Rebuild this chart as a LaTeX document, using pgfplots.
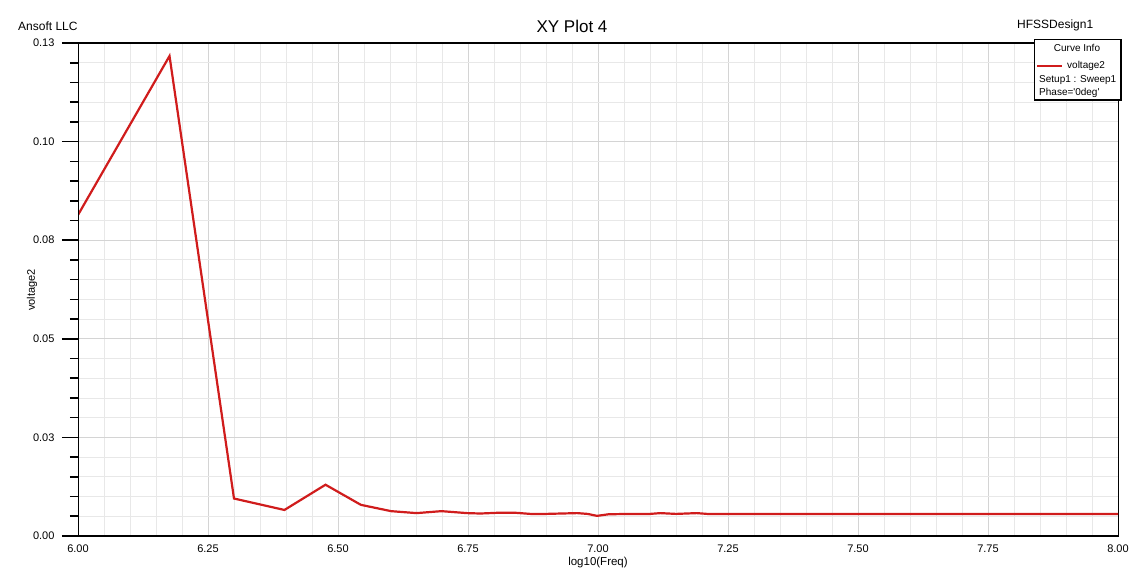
\documentclass[border=0pt]{standalone}
\usepackage{fontspec}
\setmainfont{Liberation Sans}
\usepackage{pgfplots}
\pgfplotsset{compat=1.18}
\definecolor{curvered}{RGB}{208,28,28}
\definecolor{gridminor}{RGB}{232,232,232}
\definecolor{gridmajor}{RGB}{212,212,212}
\begin{document}
\begin{tikzpicture}[x=1bp,y=1bp]
\path[use as bounding box] (0,0) rectangle (1144,582);
\begin{axis}[
  at={(78bp,46bp)}, anchor=south west,
  scale only axis, width=1040bp, height=493bp,
  xmin=6, xmax=8, ymin=0, ymax=0.125,
  xtick={6,6.25,6.5,6.75,7,7.25,7.5,7.75,8},
  xticklabels={6.00,6.25,6.50,6.75,7.00,7.25,7.50,7.75,8.00},
  ytick={0,0.025,0.05,0.075,0.1,0.125},
  yticklabels={0.00,0.03,0.05,0.08,0.10,0.13},
  minor x tick num=4, minor y tick num=4,
  grid=both,
  major grid style={gridmajor, line width=0.9bp},
  minor grid style={gridminor, line width=0.9bp},
  tick align=outside,
  xtick pos=left, ytick pos=left,
  major tick length=16bp, minor tick length=8bp,
  tick style={black, line width=1.6bp},
  xtick style={draw=none},
  axis line style={black, line width=0.8bp},
  /pgf/number format/assume math mode=true,
  ticklabel style={font=\fontsize{11bp}{13bp}\selectfont},
  xticklabel style={yshift=11bp},
  yticklabel style={xshift=-4bp},
  clip=true,
]
\addplot[curvered, line width=2.2bp] coordinates {
(6.000,0.0814)
(6.176,0.1217)
(6.300,0.0095)
(6.397,0.0066)
(6.476,0.0130)
(6.544,0.0079)
(6.602,0.0063)
(6.651,0.0058)
(6.699,0.0063)
(6.748,0.0058)
(6.774,0.0057)
(6.810,0.0059)
(6.840,0.0059)
(6.870,0.0056)
(6.900,0.0056)
(6.930,0.0057)
(6.960,0.0058)
(6.980,0.0056)
(6.998,0.0051)
(7.020,0.0055)
(7.060,0.0056)
(7.100,0.0056)
(7.120,0.0058)
(7.150,0.0056)
(7.190,0.0058)
(7.210,0.0056)
(8.000,0.0056)
};
\draw[black, line width=2.4bp] (rel axis cs:0,1) -- (rel axis cs:1,1);
\draw[black, line width=2.2bp] (rel axis cs:0,0) -- (rel axis cs:0,1);
\draw[black, line width=2.4bp] (rel axis cs:0,0) -- (rel axis cs:1,0);
\pgfplotsinvokeforeach{6.00,6.05,6.10,6.15,6.20,6.25,6.30,6.35,6.40,6.45,6.50,6.55,6.60,6.65,6.70,6.75,6.80,6.85,6.90,6.95,7.00,7.05,7.10,7.15,7.20,7.25,7.30,7.35,7.40,7.45,7.50,7.55,7.60,7.65,7.70,7.75,7.80,7.85,7.90,7.95,8.00}{
  \draw[black, line width=1.4bp] (axis cs:#1,0) -- ++(0,-5bp);
}
\end{axis}
% outer texts
\node[anchor=west, inner sep=0pt, font=\fontsize{12bp}{14bp}\selectfont] at (18,556) {Ansoft LLC};
\node[inner sep=0pt, font=\fontsize{17bp}{20bp}\selectfont] at (572,556) {XY Plot 4};
\node[anchor=west, inner sep=0pt, font=\fontsize{12bp}{14bp}\selectfont] at (1017,557) {HFSSDesign1};
\node[inner sep=0pt, font=\fontsize{11.5bp}{14bp}\selectfont] at (598,19) {log10(Freq)};
\node[inner sep=0pt, rotate=90, font=\fontsize{11bp}{13bp}\selectfont] at (32,292) {voltage2};
% legend box
\draw[black, line width=0.8bp, fill=white] (1034,482) rectangle (1121,543);
\draw[black, line width=1.6bp] (1034,482) -- (1121,482) -- (1121,543);
\node[inner sep=0pt, font=\fontsize{10bp}{12bp}\selectfont] at (1077,534) {Curve Info};
\draw[curvered, line width=2.4bp] (1037,516) -- (1062,516);
\node[anchor=west, inner sep=0pt, font=\fontsize{10bp}{12bp}\selectfont] at (1067,516) {voltage2};
\node[anchor=west, inner sep=0pt, font=\fontsize{10bp}{12bp}\selectfont] at (1039,502) {Setup1 : Sweep1};
\node[anchor=west, inner sep=0pt, font=\fontsize{10bp}{12bp}\selectfont] at (1039,489) {Phase=\textquotesingle 0deg\textquotesingle};
\end{tikzpicture}
\end{document}
